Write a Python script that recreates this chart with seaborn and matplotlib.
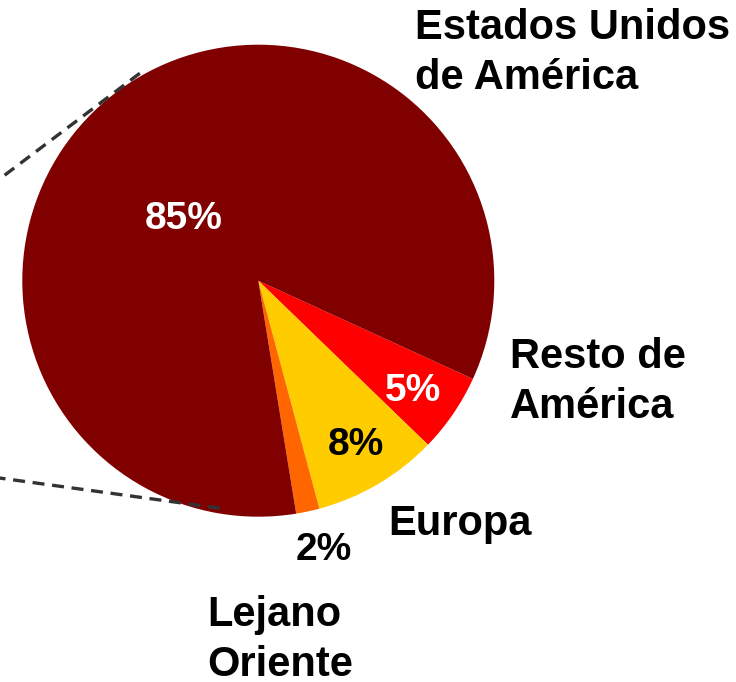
import matplotlib
matplotlib.use("Agg")
import matplotlib.pyplot as plt
import seaborn as sns

# shares (percent)
regions = ["Resto de\nAmérica", "Europa", "Lejano\nOriente", "Estados Unidos\nde América"]
shares = [5.4, 8.6, 1.6, 84.4]
pct_labels = ["5%", "8%", "2%", "85%"]
colors = ["#FF0000", "#FFCC00", "#FF6600", "#800000"]
pct_colors = ["white", "black", "black", "white"]

# label placement, in units of the pie radius from its centre
# (y is the baseline of the last line of each label)
pct_pos = [(0.655, -0.508), (0.414, -0.739), (0.278, -1.183), (-0.317, 0.218)]
name_pos = [(1.066, -0.582), (0.855, -1.078), (-0.218, -1.675), (0.664, 0.812)]
name_ha = ["left", "center", "left", "left"]

sns.set_theme(style="white")
plt.rcParams["font.family"] = ["Liberation Sans", "DejaVu Sans"]

fig = plt.figure(figsize=(7.36, 6.82), dpi=100)
ax = fig.add_axes([0, 0, 1, 1])

wedges, _ = ax.pie(shares, colors=colors, startangle=-24.6, counterclock=False,
                   radius=1.0, wedgeprops=dict(linewidth=0))

# connector lines towards the (cut off) secondary chart
ax.plot([-0.502, -1.25], [0.879, 0.315], ls=(0, (3.6, 2.3)), lw=2.4,
        color="#333333", zorder=3, dash_capstyle="butt")
ax.plot([-0.163, -1.25], [-0.964, -0.815], ls=(0, (3.6, 2.3)), lw=2.4,
        color="#333333", zorder=3, dash_capstyle="butt")

for txt, (x, y), c in zip(pct_labels, pct_pos, pct_colors):
    ax.text(x, y, txt, ha="center", va="baseline", color=c,
            fontsize=28, fontweight="bold", zorder=5)

for txt, (x, y), ha in zip(regions, name_pos, name_ha):
    ax.text(x, y, txt, ha=ha, va="baseline", color="black",
            fontsize=30, fontweight="bold", linespacing=1.32, zorder=5)

R = 236
ax.set_xlim(-258.3 / R, (736 - 258.3) / R)
ax.set_ylim((280.7 - 682) / R, 280.7 / R)
ax.axis("off")

fig.savefig("out.png", dpi=100)
